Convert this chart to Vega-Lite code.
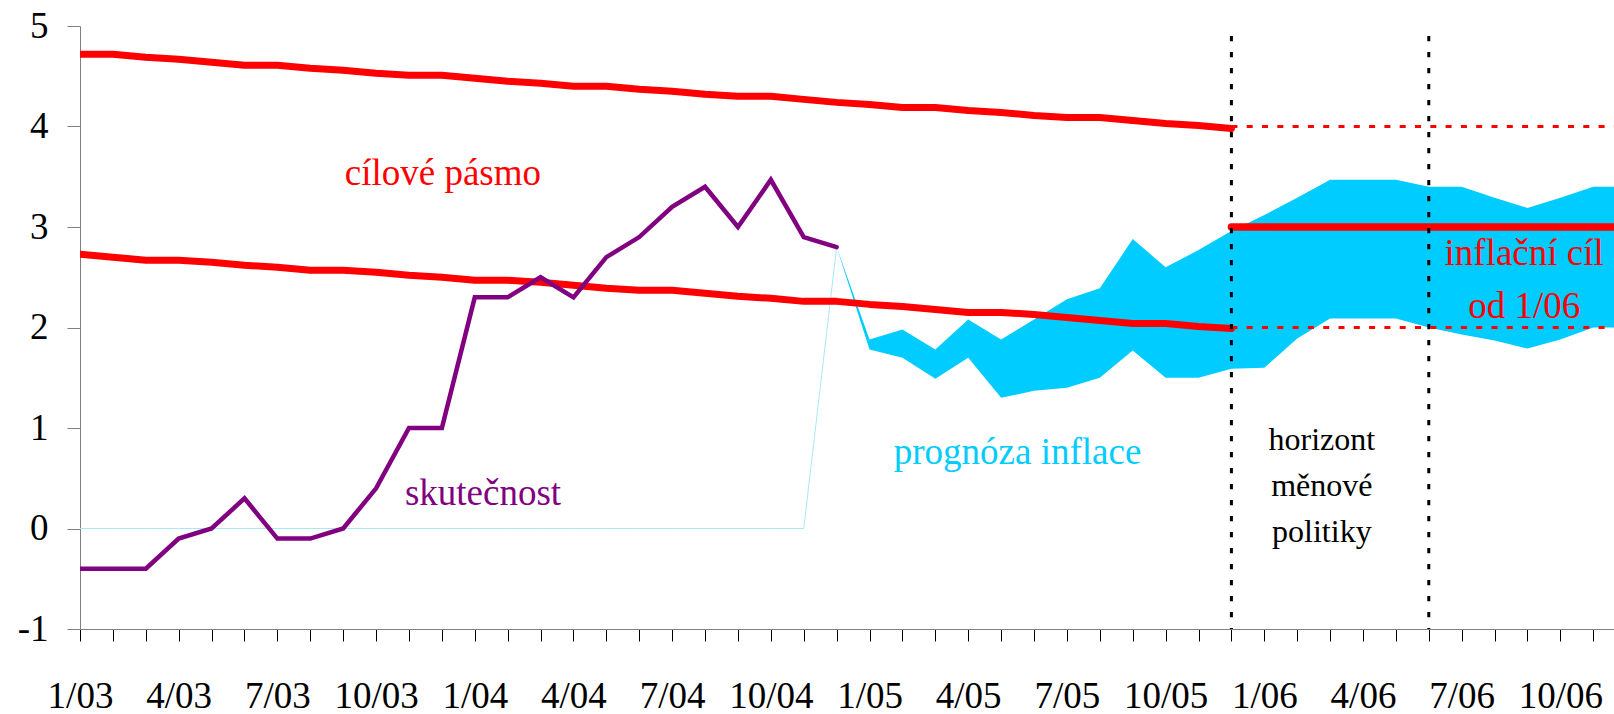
{
  "$schema": "https://vega.github.io/schema/vega-lite/v6.json",
  "width": 1534,
  "height": 603,
  "autosize": {"type": "none"},
  "padding": {"left": 80, "top": 26, "right": 0, "bottom": 85},
  "background": "white",
  "config": {
    "view": {"stroke": null},
    "font": "Liberation Serif",
    "axisX": {
      "grid": false, "labelFont": "Liberation Serif", "labelFontSize": 37, "labelColor": "#000000",
      "labelBaseline": "alphabetic", "labelPadding": 66, "labelAngle": 0,
      "tickSize": 12, "tickColor": "#000000", "tickWidth": 1,
      "domainColor": "#808080", "domainWidth": 1
    },
    "axisY": {
      "grid": false, "labelFont": "Liberation Serif", "labelFontSize": 37, "labelColor": "#000000",
      "labelAlign": "right", "labelBaseline": "middle", "labelPadding": 19,
      "tickSize": 13, "tickColor": "#808080", "tickWidth": 1,
      "domainColor": "#808080", "domainWidth": 1
    }
  },
  "datasets": {
    "band": [
      {"m": 0, "month": "1/03", "upper": 4.72, "lower": 2.73},
      {"m": 1, "month": "2/03", "upper": 4.72, "lower": 2.70},
      {"m": 2, "month": "3/03", "upper": 4.69, "lower": 2.67},
      {"m": 3, "month": "4/03", "upper": 4.67, "lower": 2.67},
      {"m": 4, "month": "5/03", "upper": 4.64, "lower": 2.65},
      {"m": 5, "month": "6/03", "upper": 4.61, "lower": 2.62},
      {"m": 6, "month": "7/03", "upper": 4.61, "lower": 2.60},
      {"m": 7, "month": "8/03", "upper": 4.58, "lower": 2.57},
      {"m": 8, "month": "9/03", "upper": 4.56, "lower": 2.57},
      {"m": 9, "month": "10/03", "upper": 4.53, "lower": 2.55},
      {"m": 10, "month": "11/03", "upper": 4.51, "lower": 2.52},
      {"m": 11, "month": "12/03", "upper": 4.51, "lower": 2.50},
      {"m": 12, "month": "1/04", "upper": 4.48, "lower": 2.47},
      {"m": 13, "month": "2/04", "upper": 4.45, "lower": 2.47},
      {"m": 14, "month": "3/04", "upper": 4.43, "lower": 2.45},
      {"m": 15, "month": "4/04", "upper": 4.40, "lower": 2.42},
      {"m": 16, "month": "5/04", "upper": 4.40, "lower": 2.39},
      {"m": 17, "month": "6/04", "upper": 4.37, "lower": 2.37},
      {"m": 18, "month": "7/04", "upper": 4.35, "lower": 2.37},
      {"m": 19, "month": "8/04", "upper": 4.32, "lower": 2.34},
      {"m": 20, "month": "9/04", "upper": 4.30, "lower": 2.31},
      {"m": 21, "month": "10/04", "upper": 4.30, "lower": 2.29},
      {"m": 22, "month": "11/04", "upper": 4.27, "lower": 2.26},
      {"m": 23, "month": "12/04", "upper": 4.24, "lower": 2.26},
      {"m": 24, "month": "1/05", "upper": 4.22, "lower": 2.23},
      {"m": 25, "month": "2/05", "upper": 4.19, "lower": 2.21},
      {"m": 26, "month": "3/05", "upper": 4.19, "lower": 2.18},
      {"m": 27, "month": "4/05", "upper": 4.16, "lower": 2.15},
      {"m": 28, "month": "5/05", "upper": 4.14, "lower": 2.15},
      {"m": 29, "month": "6/05", "upper": 4.11, "lower": 2.13},
      {"m": 30, "month": "7/05", "upper": 4.09, "lower": 2.10},
      {"m": 31, "month": "8/05", "upper": 4.09, "lower": 2.07},
      {"m": 32, "month": "9/05", "upper": 4.06, "lower": 2.04},
      {"m": 33, "month": "10/05", "upper": 4.03, "lower": 2.04},
      {"m": 34, "month": "11/05", "upper": 4.01, "lower": 2.01},
      {"m": 35, "month": "12/05", "upper": 3.98, "lower": 1.99}
    ],
    "actual": [
      {"m": 0, "cpi": -0.4}, {"m": 1, "cpi": -0.4}, {"m": 2, "cpi": -0.4},
      {"m": 3, "cpi": -0.1}, {"m": 4, "cpi": 0.0}, {"m": 5, "cpi": 0.3},
      {"m": 6, "cpi": -0.1}, {"m": 7, "cpi": -0.1}, {"m": 8, "cpi": 0.0},
      {"m": 9, "cpi": 0.4}, {"m": 10, "cpi": 1.0}, {"m": 11, "cpi": 1.0},
      {"m": 12, "cpi": 2.3}, {"m": 13, "cpi": 2.3}, {"m": 14, "cpi": 2.5},
      {"m": 15, "cpi": 2.3}, {"m": 16, "cpi": 2.7}, {"m": 17, "cpi": 2.9},
      {"m": 18, "cpi": 3.2}, {"m": 19, "cpi": 3.4}, {"m": 20, "cpi": 3.0},
      {"m": 21, "cpi": 3.47}, {"m": 22, "cpi": 2.9}, {"m": 23, "cpi": 2.8}
    ],
    "base": [
      {"m": 0, "v": 0}, {"m": 1, "v": 0}, {"m": 2, "v": 0}, {"m": 3, "v": 0},
      {"m": 4, "v": 0}, {"m": 5, "v": 0}, {"m": 6, "v": 0}, {"m": 7, "v": 0},
      {"m": 8, "v": 0}, {"m": 9, "v": 0}, {"m": 10, "v": 0}, {"m": 11, "v": 0},
      {"m": 12, "v": 0}, {"m": 13, "v": 0}, {"m": 14, "v": 0}, {"m": 15, "v": 0},
      {"m": 16, "v": 0}, {"m": 17, "v": 0}, {"m": 18, "v": 0}, {"m": 19, "v": 0},
      {"m": 20, "v": 0}, {"m": 21, "v": 0}, {"m": 22, "v": 0}, {"m": 23, "v": 2.8}
    ],
    "forecast": [
      {"m": 23, "lo": 2.8, "hi": 2.8},
      {"m": 24, "lo": 1.78, "hi": 1.88},
      {"m": 25, "lo": 1.70, "hi": 1.98},
      {"m": 26, "lo": 1.49, "hi": 1.78},
      {"m": 27, "lo": 1.70, "hi": 2.08},
      {"m": 28, "lo": 1.30, "hi": 1.88},
      {"m": 29, "lo": 1.37, "hi": 2.08},
      {"m": 30, "lo": 1.40, "hi": 2.28},
      {"m": 31, "lo": 1.50, "hi": 2.39},
      {"m": 32, "lo": 1.77, "hi": 2.88},
      {"m": 33, "lo": 1.50, "hi": 2.60},
      {"m": 34, "lo": 1.50, "hi": 2.77},
      {"m": 35, "lo": 1.59, "hi": 2.96},
      {"m": 36, "lo": 1.60, "hi": 3.12},
      {"m": 37, "lo": 1.89, "hi": 3.29},
      {"m": 38, "lo": 2.09, "hi": 3.47},
      {"m": 39, "lo": 2.09, "hi": 3.47},
      {"m": 40, "lo": 2.09, "hi": 3.47},
      {"m": 41, "lo": 2.00, "hi": 3.40},
      {"m": 42, "lo": 1.93, "hi": 3.40},
      {"m": 43, "lo": 1.87, "hi": 3.29},
      {"m": 44, "lo": 1.79, "hi": 3.19},
      {"m": 45, "lo": 1.88, "hi": 3.29},
      {"m": 46, "lo": 2.00, "hi": 3.40},
      {"m": 47, "lo": 2.00, "hi": 3.40}
    ],
    "target": [
      {"m": 35, "target": 3, "top": 4, "bottom": 2},
      {"m": 47, "target": 3, "top": 4, "bottom": 2}
    ],
    "horizon": [
      {"m": 35, "from": 4.9, "to": -1},
      {"m": 41, "from": 4.9, "to": -1}
    ],
    "notes": [{"id": 1}]
  },
  "layer": [
    {
      "data": {"name": "base"},
      "mark": {"type": "line", "color": "#a8e8f6", "strokeWidth": 1, "clip": true},
      "encoding": {
        "x": {"field": "m", "type": "quantitative", "title": null, "scale": {"domain": [0, 46.63], "nice": false, "zero": false},
          "axis": {"values": [0,1,2,3,4,5,6,7,8,9,10,11,12,13,14,15,16,17,18,19,20,21,22,23,24,25,26,27,28,29,30,31,32,33,34,35,36,37,38,39,40,41,42,43,44,45,46], "labelExpr": "datum.value % 3 == 0 ? ((datum.value % 12) + 1) + '/0' + (3 + floor(datum.value / 12)) : ''", "labelOverlap": false, "labelFlush": false, "labelBound": false}},
        "y": {"field": "v", "type": "quantitative", "title": null, "scale": {"domain": [-1, 5], "nice": false, "zero": false},
          "axis": {"values": [-1, 0, 1, 2, 3, 4, 5], "labelExpr": "'' + datum.value", "labelOverlap": false, "labelFlush": false, "labelBound": false}}
      }
    },
    {
      "data": {"name": "forecast"},
      "mark": {"type": "area", "color": "#00CCFF", "opacity": 1, "clip": true},
      "encoding": {
        "x": {"field": "m", "type": "quantitative", "title": null, "scale": {"domain": [0, 46.63], "nice": false, "zero": false},
          "axis": {"values": [0,1,2,3,4,5,6,7,8,9,10,11,12,13,14,15,16,17,18,19,20,21,22,23,24,25,26,27,28,29,30,31,32,33,34,35,36,37,38,39,40,41,42,43,44,45,46], "labelExpr": "datum.value % 3 == 0 ? ((datum.value % 12) + 1) + '/0' + (3 + floor(datum.value / 12)) : ''", "labelOverlap": false, "labelFlush": false, "labelBound": false}},
        "y": {"field": "lo", "type": "quantitative", "title": null, "scale": {"domain": [-1, 5], "nice": false, "zero": false},
          "axis": {"values": [-1, 0, 1, 2, 3, 4, 5], "labelExpr": "'' + datum.value", "labelOverlap": false, "labelFlush": false, "labelBound": false}},
        "y2": {"field": "hi"}
      }
    },
    {
      "data": {"name": "band"},
      "mark": {"type": "line", "color": "#FF0000", "strokeWidth": 7, "strokeCap": "round", "strokeJoin": "round", "clip": true},
      "encoding": {
        "x": {"field": "m", "type": "quantitative", "title": null, "scale": {"domain": [0, 46.63], "nice": false, "zero": false},
          "axis": {"values": [0,1,2,3,4,5,6,7,8,9,10,11,12,13,14,15,16,17,18,19,20,21,22,23,24,25,26,27,28,29,30,31,32,33,34,35,36,37,38,39,40,41,42,43,44,45,46], "labelExpr": "datum.value % 3 == 0 ? ((datum.value % 12) + 1) + '/0' + (3 + floor(datum.value / 12)) : ''", "labelOverlap": false, "labelFlush": false, "labelBound": false}},
        "y": {"field": "upper", "type": "quantitative", "title": null, "scale": {"domain": [-1, 5], "nice": false, "zero": false},
          "axis": {"values": [-1, 0, 1, 2, 3, 4, 5], "labelExpr": "'' + datum.value", "labelOverlap": false, "labelFlush": false, "labelBound": false}}
      }
    },
    {
      "data": {"name": "band"},
      "mark": {"type": "line", "color": "#FF0000", "strokeWidth": 7, "strokeCap": "round", "strokeJoin": "round", "clip": true},
      "encoding": {
        "x": {"field": "m", "type": "quantitative", "title": null, "scale": {"domain": [0, 46.63], "nice": false, "zero": false},
          "axis": {"values": [0,1,2,3,4,5,6,7,8,9,10,11,12,13,14,15,16,17,18,19,20,21,22,23,24,25,26,27,28,29,30,31,32,33,34,35,36,37,38,39,40,41,42,43,44,45,46], "labelExpr": "datum.value % 3 == 0 ? ((datum.value % 12) + 1) + '/0' + (3 + floor(datum.value / 12)) : ''", "labelOverlap": false, "labelFlush": false, "labelBound": false}},
        "y": {"field": "lower", "type": "quantitative", "title": null, "scale": {"domain": [-1, 5], "nice": false, "zero": false},
          "axis": {"values": [-1, 0, 1, 2, 3, 4, 5], "labelExpr": "'' + datum.value", "labelOverlap": false, "labelFlush": false, "labelBound": false}}
      }
    },
    {
      "data": {"name": "target"},
      "mark": {"type": "line", "color": "#FF0000", "strokeWidth": 3, "strokeDash": [6, 9.3], "clip": true},
      "encoding": {
        "x": {"field": "m", "type": "quantitative", "title": null, "scale": {"domain": [0, 46.63], "nice": false, "zero": false},
          "axis": {"values": [0,1,2,3,4,5,6,7,8,9,10,11,12,13,14,15,16,17,18,19,20,21,22,23,24,25,26,27,28,29,30,31,32,33,34,35,36,37,38,39,40,41,42,43,44,45,46], "labelExpr": "datum.value % 3 == 0 ? ((datum.value % 12) + 1) + '/0' + (3 + floor(datum.value / 12)) : ''", "labelOverlap": false, "labelFlush": false, "labelBound": false}},
        "y": {"field": "top", "type": "quantitative", "title": null, "scale": {"domain": [-1, 5], "nice": false, "zero": false},
          "axis": {"values": [-1, 0, 1, 2, 3, 4, 5], "labelExpr": "'' + datum.value", "labelOverlap": false, "labelFlush": false, "labelBound": false}}
      }
    },
    {
      "data": {"name": "target"},
      "mark": {"type": "line", "color": "#FF0000", "strokeWidth": 3, "strokeDash": [6, 9.3], "clip": true},
      "encoding": {
        "x": {"field": "m", "type": "quantitative", "title": null, "scale": {"domain": [0, 46.63], "nice": false, "zero": false},
          "axis": {"values": [0,1,2,3,4,5,6,7,8,9,10,11,12,13,14,15,16,17,18,19,20,21,22,23,24,25,26,27,28,29,30,31,32,33,34,35,36,37,38,39,40,41,42,43,44,45,46], "labelExpr": "datum.value % 3 == 0 ? ((datum.value % 12) + 1) + '/0' + (3 + floor(datum.value / 12)) : ''", "labelOverlap": false, "labelFlush": false, "labelBound": false}},
        "y": {"field": "bottom", "type": "quantitative", "title": null, "scale": {"domain": [-1, 5], "nice": false, "zero": false},
          "axis": {"values": [-1, 0, 1, 2, 3, 4, 5], "labelExpr": "'' + datum.value", "labelOverlap": false, "labelFlush": false, "labelBound": false}}
      }
    },
    {
      "data": {"name": "target"},
      "mark": {"type": "line", "color": "#FF0000", "strokeWidth": 7.5, "strokeCap": "round", "clip": true},
      "encoding": {
        "x": {"field": "m", "type": "quantitative", "title": null, "scale": {"domain": [0, 46.63], "nice": false, "zero": false},
          "axis": {"values": [0,1,2,3,4,5,6,7,8,9,10,11,12,13,14,15,16,17,18,19,20,21,22,23,24,25,26,27,28,29,30,31,32,33,34,35,36,37,38,39,40,41,42,43,44,45,46], "labelExpr": "datum.value % 3 == 0 ? ((datum.value % 12) + 1) + '/0' + (3 + floor(datum.value / 12)) : ''", "labelOverlap": false, "labelFlush": false, "labelBound": false}},
        "y": {"field": "target", "type": "quantitative", "title": null, "scale": {"domain": [-1, 5], "nice": false, "zero": false},
          "axis": {"values": [-1, 0, 1, 2, 3, 4, 5], "labelExpr": "'' + datum.value", "labelOverlap": false, "labelFlush": false, "labelBound": false}}
      }
    },
    {
      "data": {"name": "actual"},
      "mark": {"type": "line", "color": "#800080", "strokeWidth": 4.5, "strokeCap": "round", "strokeJoin": "miter", "clip": true},
      "encoding": {
        "x": {"field": "m", "type": "quantitative", "title": null, "scale": {"domain": [0, 46.63], "nice": false, "zero": false},
          "axis": {"values": [0,1,2,3,4,5,6,7,8,9,10,11,12,13,14,15,16,17,18,19,20,21,22,23,24,25,26,27,28,29,30,31,32,33,34,35,36,37,38,39,40,41,42,43,44,45,46], "labelExpr": "datum.value % 3 == 0 ? ((datum.value % 12) + 1) + '/0' + (3 + floor(datum.value / 12)) : ''", "labelOverlap": false, "labelFlush": false, "labelBound": false}},
        "y": {"field": "cpi", "type": "quantitative", "title": null, "scale": {"domain": [-1, 5], "nice": false, "zero": false},
          "axis": {"values": [-1, 0, 1, 2, 3, 4, 5], "labelExpr": "'' + datum.value", "labelOverlap": false, "labelFlush": false, "labelBound": false}}
      }
    },
    {
      "data": {"name": "horizon"},
      "mark": {"type": "rule", "color": "#000000", "strokeWidth": 3, "strokeDash": [5.3, 10.7]},
      "encoding": {
        "x": {"field": "m", "type": "quantitative", "title": null, "scale": {"domain": [0, 46.63], "nice": false, "zero": false},
          "axis": {"values": [0,1,2,3,4,5,6,7,8,9,10,11,12,13,14,15,16,17,18,19,20,21,22,23,24,25,26,27,28,29,30,31,32,33,34,35,36,37,38,39,40,41,42,43,44,45,46], "labelExpr": "datum.value % 3 == 0 ? ((datum.value % 12) + 1) + '/0' + (3 + floor(datum.value / 12)) : ''", "labelOverlap": false, "labelFlush": false, "labelBound": false}},
        "y": {"field": "from", "type": "quantitative", "title": null, "scale": {"domain": [-1, 5], "nice": false, "zero": false},
          "axis": {"values": [-1, 0, 1, 2, 3, 4, 5], "labelExpr": "'' + datum.value", "labelOverlap": false, "labelFlush": false, "labelBound": false}},
        "y2": {"field": "to"}
      }
    },
    {
      "data": {"name": "notes"},
      "mark": {"type": "text", "text": "cílové pásmo", "color": "#FF0000", "font": "Liberation Serif", "fontSize": 37, "align": "center", "baseline": "alphabetic"},
      "encoding": {
        "x": {"datum": 11.03, "type": "quantitative", "title": null, "scale": {"domain": [0, 46.63], "nice": false, "zero": false},
          "axis": {"values": [0,1,2,3,4,5,6,7,8,9,10,11,12,13,14,15,16,17,18,19,20,21,22,23,24,25,26,27,28,29,30,31,32,33,34,35,36,37,38,39,40,41,42,43,44,45,46], "labelExpr": "datum.value % 3 == 0 ? ((datum.value % 12) + 1) + '/0' + (3 + floor(datum.value / 12)) : ''", "labelOverlap": false, "labelFlush": false, "labelBound": false}},
        "y": {"datum": 3.42, "type": "quantitative", "title": null, "scale": {"domain": [-1, 5], "nice": false, "zero": false},
          "axis": {"values": [-1, 0, 1, 2, 3, 4, 5], "labelExpr": "'' + datum.value", "labelOverlap": false, "labelFlush": false, "labelBound": false}}
      }
    },
    {
      "data": {"name": "notes"},
      "mark": {"type": "text", "text": "skutečnost", "color": "#800080", "font": "Liberation Serif", "fontSize": 37, "align": "center", "baseline": "alphabetic"},
      "encoding": {
        "x": {"datum": 12.25, "type": "quantitative", "title": null, "scale": {"domain": [0, 46.63], "nice": false, "zero": false},
          "axis": {"values": [0,1,2,3,4,5,6,7,8,9,10,11,12,13,14,15,16,17,18,19,20,21,22,23,24,25,26,27,28,29,30,31,32,33,34,35,36,37,38,39,40,41,42,43,44,45,46], "labelExpr": "datum.value % 3 == 0 ? ((datum.value % 12) + 1) + '/0' + (3 + floor(datum.value / 12)) : ''", "labelOverlap": false, "labelFlush": false, "labelBound": false}},
        "y": {"datum": 0.23, "type": "quantitative", "title": null, "scale": {"domain": [-1, 5], "nice": false, "zero": false},
          "axis": {"values": [-1, 0, 1, 2, 3, 4, 5], "labelExpr": "'' + datum.value", "labelOverlap": false, "labelFlush": false, "labelBound": false}}
      }
    },
    {
      "data": {"name": "notes"},
      "mark": {"type": "text", "text": "prognóza inflace", "color": "#00CCFF", "font": "Liberation Serif", "fontSize": 37, "align": "center", "baseline": "alphabetic"},
      "encoding": {
        "x": {"datum": 28.5, "type": "quantitative", "title": null, "scale": {"domain": [0, 46.63], "nice": false, "zero": false},
          "axis": {"values": [0,1,2,3,4,5,6,7,8,9,10,11,12,13,14,15,16,17,18,19,20,21,22,23,24,25,26,27,28,29,30,31,32,33,34,35,36,37,38,39,40,41,42,43,44,45,46], "labelExpr": "datum.value % 3 == 0 ? ((datum.value % 12) + 1) + '/0' + (3 + floor(datum.value / 12)) : ''", "labelOverlap": false, "labelFlush": false, "labelBound": false}},
        "y": {"datum": 0.64, "type": "quantitative", "title": null, "scale": {"domain": [-1, 5], "nice": false, "zero": false},
          "axis": {"values": [-1, 0, 1, 2, 3, 4, 5], "labelExpr": "'' + datum.value", "labelOverlap": false, "labelFlush": false, "labelBound": false}}
      }
    },
    {
      "data": {"name": "notes"},
      "mark": {"type": "text", "text": ["horizont", "měnové", "politiky"], "color": "#000000", "font": "Liberation Serif", "fontSize": 32, "lineHeight": 46, "align": "center", "baseline": "alphabetic"},
      "encoding": {
        "x": {"datum": 37.75, "type": "quantitative", "title": null, "scale": {"domain": [0, 46.63], "nice": false, "zero": false},
          "axis": {"values": [0,1,2,3,4,5,6,7,8,9,10,11,12,13,14,15,16,17,18,19,20,21,22,23,24,25,26,27,28,29,30,31,32,33,34,35,36,37,38,39,40,41,42,43,44,45,46], "labelExpr": "datum.value % 3 == 0 ? ((datum.value % 12) + 1) + '/0' + (3 + floor(datum.value / 12)) : ''", "labelOverlap": false, "labelFlush": false, "labelBound": false}},
        "y": {"datum": 0.785, "type": "quantitative", "title": null, "scale": {"domain": [-1, 5], "nice": false, "zero": false},
          "axis": {"values": [-1, 0, 1, 2, 3, 4, 5], "labelExpr": "'' + datum.value", "labelOverlap": false, "labelFlush": false, "labelBound": false}}
      }
    },
    {
      "data": {"name": "notes"},
      "mark": {"type": "text", "text": ["inflační cíl", "od 1/06"], "color": "#FF0000", "font": "Liberation Serif", "fontSize": 37, "lineHeight": 53, "align": "center", "baseline": "alphabetic"},
      "encoding": {
        "x": {"datum": 43.9, "type": "quantitative", "title": null, "scale": {"domain": [0, 46.63], "nice": false, "zero": false},
          "axis": {"values": [0,1,2,3,4,5,6,7,8,9,10,11,12,13,14,15,16,17,18,19,20,21,22,23,24,25,26,27,28,29,30,31,32,33,34,35,36,37,38,39,40,41,42,43,44,45,46], "labelExpr": "datum.value % 3 == 0 ? ((datum.value % 12) + 1) + '/0' + (3 + floor(datum.value / 12)) : ''", "labelOverlap": false, "labelFlush": false, "labelBound": false}},
        "y": {"datum": 2.62, "type": "quantitative", "title": null, "scale": {"domain": [-1, 5], "nice": false, "zero": false},
          "axis": {"values": [-1, 0, 1, 2, 3, 4, 5], "labelExpr": "'' + datum.value", "labelOverlap": false, "labelFlush": false, "labelBound": false}}
      }
    }
  ]
}
